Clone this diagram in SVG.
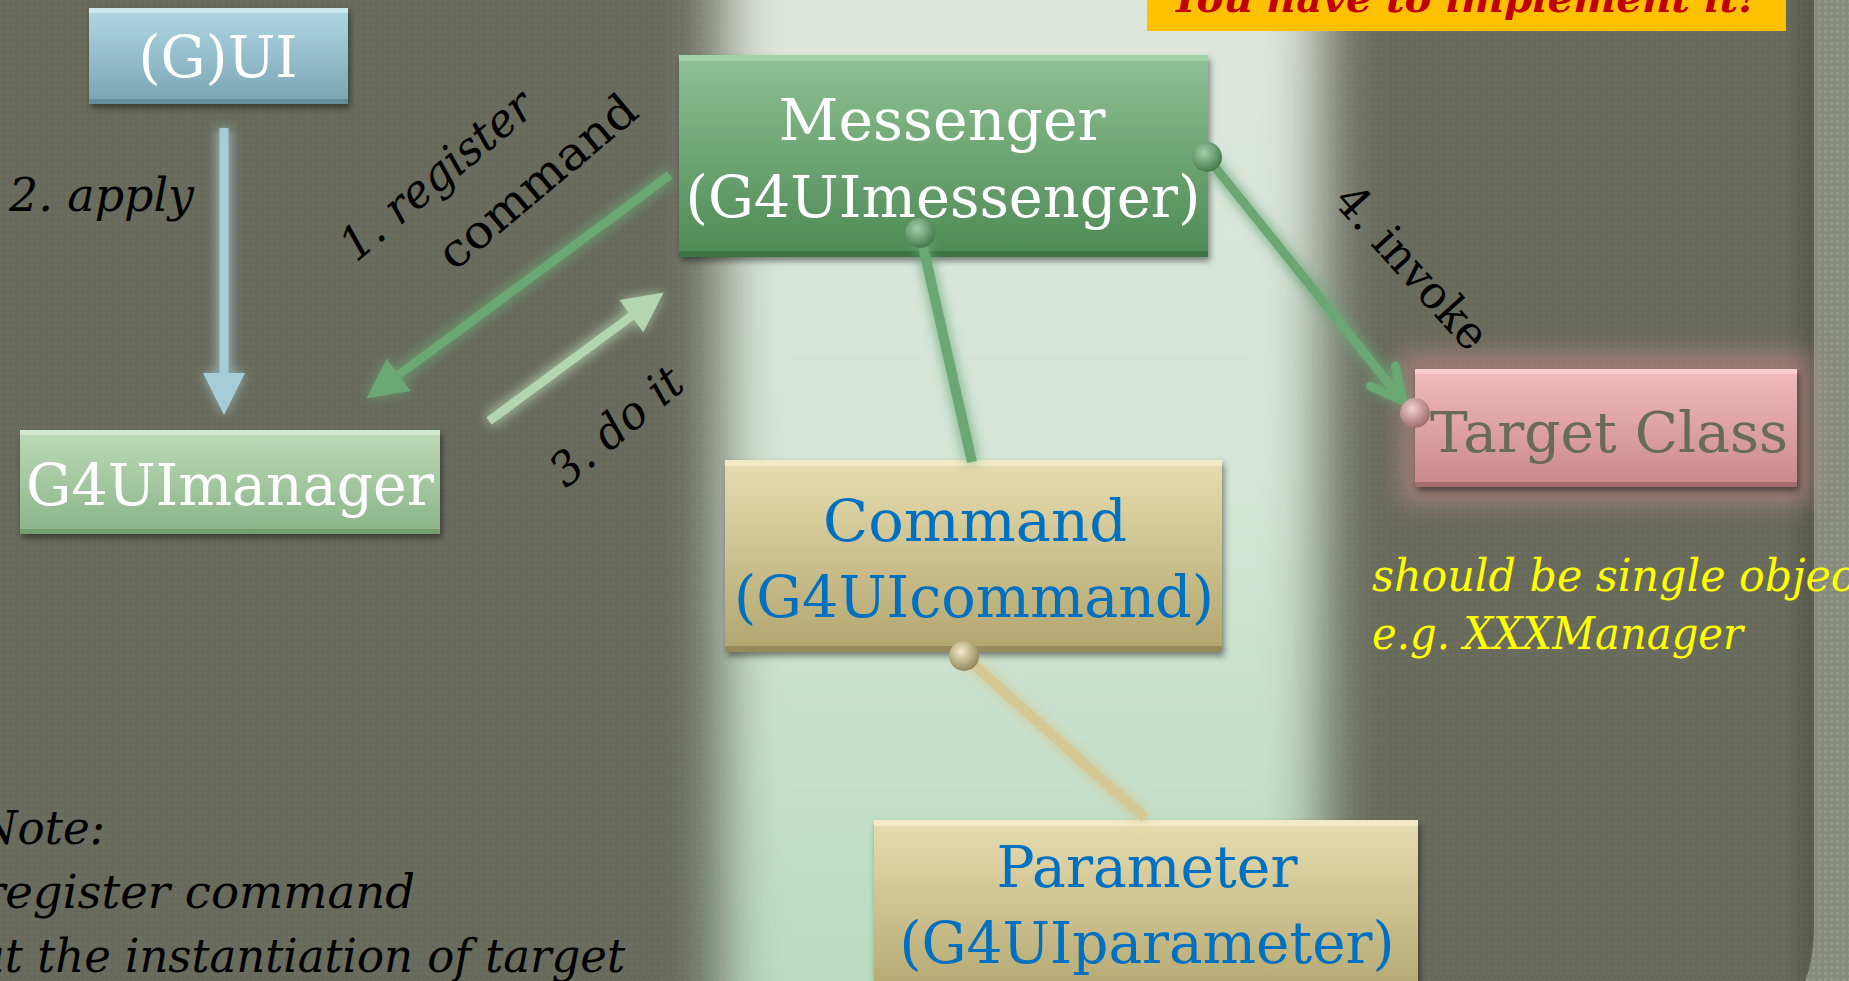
<svg xmlns="http://www.w3.org/2000/svg" width="1849" height="981" viewBox="0 0 1849 981">
<defs>
<style>
.f{font-family:"DejaVu Serif","Liberation Serif",serif}
.nt{fill:#ffffff;font-size:58px;text-anchor:middle}
.bt{fill:#0070c0;font-size:58px;text-anchor:middle}
.lab{fill:#000000;font-size:46px;font-style:italic}
.lab2{fill:#000000;font-size:46px}
.note{fill:#000000;font-size:46px;font-style:italic}
.yel{fill:#ffff00;font-size:44px;font-style:italic}
.glow{filter:url(#glow);opacity:0.75}
.box{filter:url(#shadow)}
</style>
<pattern id="tex" width="6" height="6" patternUnits="userSpaceOnUse">
<rect width="6" height="6" fill="#686a5b"/>
<rect x="0" y="0" width="3" height="3" fill="#6c6e5f"/>
</pattern>
<pattern id="tex2" width="6" height="6" patternUnits="userSpaceOnUse">
<rect width="6" height="6" fill="#878b7b"/>
<rect x="0" y="0" width="3" height="3" fill="#939786"/>
</pattern>
<linearGradient id="bandGrad" x1="0" y1="0" x2="0" y2="1">
<stop offset="0" stop-color="#cdd3ca"/>
<stop offset="0.15" stop-color="#dfe6dd"/>
<stop offset="0.5" stop-color="#d2e5d6"/>
<stop offset="1" stop-color="#afd6b8"/>
</linearGradient>
<linearGradient id="gBlue" x1="0" y1="0" x2="0" y2="1">
<stop offset="0" stop-color="#b0d8e4"/>
<stop offset="1" stop-color="#7aa3b3"/>
</linearGradient>
<linearGradient id="gLight" x1="0" y1="0" x2="0" y2="1">
<stop offset="0" stop-color="#bcdbb8"/>
<stop offset="1" stop-color="#8bb388"/>
</linearGradient>
<linearGradient id="gGreen" x1="0" y1="0" x2="0" y2="1">
<stop offset="0" stop-color="#8fc194"/>
<stop offset="1" stop-color="#4d8955"/>
</linearGradient>
<linearGradient id="gTan" x1="0" y1="0" x2="0" y2="1">
<stop offset="0" stop-color="#e6ddb0"/>
<stop offset="1" stop-color="#b2a56e"/>
</linearGradient>
<linearGradient id="gPink" x1="0" y1="0" x2="0" y2="1">
<stop offset="0" stop-color="#f2bbbb"/>
<stop offset="1" stop-color="#c98889"/>
</linearGradient>
<linearGradient id="edgeShade" x1="0" y1="0" x2="1" y2="0">
<stop offset="0" stop-color="#000" stop-opacity="0"/>
<stop offset="1" stop-color="#000" stop-opacity="0.18"/>
</linearGradient>
<radialGradient id="dGreen" cx="0.4" cy="0.35" r="0.7">
<stop offset="0" stop-color="#a3d0a8"/>
<stop offset="1" stop-color="#3f7448"/>
</radialGradient>
<radialGradient id="dTan" cx="0.4" cy="0.35" r="0.7">
<stop offset="0" stop-color="#f2ebc8"/>
<stop offset="1" stop-color="#8a7f52"/>
</radialGradient>
<radialGradient id="dPink" cx="0.4" cy="0.35" r="0.7">
<stop offset="0" stop-color="#f5d2d2"/>
<stop offset="1" stop-color="#9a6466"/>
</radialGradient>
<filter id="bandBlur" x="-20%" y="-20%" width="140%" height="140%">
<feGaussianBlur stdDeviation="28"/>
</filter>
<filter id="pinkBlur" x="-30%" y="-50%" width="160%" height="200%">
<feGaussianBlur stdDeviation="12"/>
</filter>
<filter id="glow" x="-30%" y="-30%" width="160%" height="160%">
<feGaussianBlur stdDeviation="6"/>
</filter>
<filter id="shadow" x="-10%" y="-20%" width="120%" height="150%">
<feDropShadow dx="2" dy="4" stdDeviation="3" flood-color="#000" flood-opacity="0.45"/>
</filter>
<marker id="triGreen" markerUnits="userSpaceOnUse" overflow="visible" orient="auto" refX="0" refY="0" markerWidth="40" markerHeight="40">
<path d="M-2,-20 L38,0 L-2,20 Z" fill="#6aa774"/>
</marker>
<marker id="triPale" markerUnits="userSpaceOnUse" overflow="visible" orient="auto" refX="0" refY="0" markerWidth="40" markerHeight="40">
<path d="M-2,-20 L38,0 L-2,20 Z" fill="#b3d6b1"/>
</marker>
<marker id="triBlue" markerUnits="userSpaceOnUse" overflow="visible" orient="auto" refX="0" refY="0" markerWidth="40" markerHeight="42">
<path d="M-2,-21 L40,0 L-2,21 Z" fill="#a6ccd7"/>
</marker>
<marker id="vGreen" markerUnits="userSpaceOnUse" overflow="visible" orient="auto" refX="0" refY="0" markerWidth="40" markerHeight="40">
<path d="M-32,-16 L0,0 L-32,16" fill="none" stroke="#6aa774" stroke-width="9" stroke-linecap="round" stroke-linejoin="round"/>
</marker>
</defs>

<!-- background -->
<rect x="0" y="0" width="1849" height="981" fill="url(#tex)"/>
<rect x="722" y="-200" width="600" height="1400" fill="url(#bandGrad)" filter="url(#bandBlur)"/>
<rect x="1785" y="0" width="28" height="981" fill="url(#edgeShade)"/>
<path d="M1813,0 L1849,0 L1849,981 L1804,981 Q1812,962 1813,930 Z" fill="url(#tex2)"/>
<path d="M1813,0 L1813,930 Q1812,962 1804,981" fill="none" stroke="#5d6052" stroke-width="2"/>
<rect x="1400" y="352" width="412" height="152" fill="#c98a8a" opacity="0.55" filter="url(#pinkBlur)"/>

<!-- banner -->
<g id="banner">
<rect x="1147" y="0" width="639" height="31" fill="#ffc000"/>
<text class="f" x="1171" y="12" font-size="40" font-weight="bold" font-style="italic" fill="#c00000" textLength="585" lengthAdjust="spacingAndGlyphs">You have to implement it!</text>
</g>

<!-- nodes -->
<g id="node-gui" class="box">
<rect x="89" y="8" width="259" height="96" fill="url(#gBlue)"/>
<rect x="89" y="8" width="259" height="5" fill="#d2ecf3" opacity="0.8"/>
<rect x="89" y="99" width="259" height="5" fill="#5f8896" opacity="0.8"/>
<text class="f nt" x="218" y="77" font-size="56" textLength="159" lengthAdjust="spacingAndGlyphs">(G)UI</text>
</g>

<g id="node-manager" class="box">
<rect x="20" y="430" width="420" height="104" fill="url(#gLight)"/>
<rect x="20" y="430" width="420" height="5" fill="#d6ecd3" opacity="0.8"/>
<rect x="20" y="529" width="420" height="5" fill="#6f9a6c" opacity="0.8"/>
<text class="f nt" x="230" y="505" font-size="56" textLength="408" lengthAdjust="spacingAndGlyphs">G4UImanager</text>
</g>

<g id="node-messenger" class="box">
<rect x="679" y="55" width="529" height="202" fill="url(#gGreen)"/>
<rect x="679" y="55" width="529" height="6" fill="#a6d6aa" opacity="0.8"/>
<rect x="679" y="251" width="529" height="6" fill="#3a6b41" opacity="0.8"/>
<text class="f nt" x="942" y="140" textLength="327" lengthAdjust="spacingAndGlyphs">Messenger</text>
<text class="f nt" x="943" y="217" textLength="515" lengthAdjust="spacingAndGlyphs">(G4UImessenger)</text>
</g>

<g id="node-command" class="box">
<rect x="725" y="460" width="497" height="192" fill="url(#gTan)"/>
<rect x="725" y="460" width="497" height="6" fill="#f5eecb" opacity="0.8"/>
<rect x="725" y="646" width="497" height="6" fill="#8e8355" opacity="0.8"/>
<text class="f bt" x="975" y="541" textLength="304" lengthAdjust="spacingAndGlyphs">Command</text>
<text class="f bt" x="974" y="617" textLength="480" lengthAdjust="spacingAndGlyphs">(G4UIcommand)</text>
</g>

<g id="node-parameter" class="box">
<rect x="874" y="820" width="544" height="180" fill="url(#gTan)"/>
<rect x="874" y="820" width="544" height="6" fill="#f5eecb" opacity="0.8"/>
<text class="f bt" x="1147" y="887" textLength="301" lengthAdjust="spacingAndGlyphs">Parameter</text>
<text class="f bt" x="1147" y="963" textLength="495" lengthAdjust="spacingAndGlyphs">(G4UIparameter)</text>
</g>

<g id="node-target" class="box">
<rect x="1415" y="369" width="382" height="118" fill="url(#gPink)"/>
<rect x="1415" y="369" width="382" height="5" fill="#fbd3d3" opacity="0.8"/>
<rect x="1415" y="482" width="382" height="5" fill="#9b6667" opacity="0.8"/>
<text class="f" x="1609" y="452" font-size="56" fill="#676a5a" text-anchor="middle" textLength="358" lengthAdjust="spacingAndGlyphs">Target Class</text>
</g>

<!-- connectors -->
<g id="connectors">
<g class="glow">
<line x1="224" y1="128" x2="224" y2="375" stroke="#a6ccd7" stroke-width="14" marker-end="url(#triBlue)"/>
<line x1="670" y1="175" x2="397" y2="376" stroke="#6aa774" stroke-width="14" marker-end="url(#triGreen)"/>
<line x1="489" y1="421" x2="633" y2="315" stroke="#b3d6b1" stroke-width="14" marker-end="url(#triPale)"/>
<line x1="920" y1="233" x2="972" y2="462" stroke="#6aa774" stroke-width="14"/>
<line x1="1207" y1="157" x2="1403" y2="401" stroke="#6aa774" stroke-width="14" marker-end="url(#vGreen)"/>
<line x1="964" y1="656" x2="1145" y2="818" stroke="#d5c894" stroke-width="14"/>
</g>
<line x1="224" y1="128" x2="224" y2="375" stroke="#a6ccd7" stroke-width="9" marker-end="url(#triBlue)"/>
<line x1="670" y1="175" x2="397" y2="376" stroke="#6aa774" stroke-width="9" marker-end="url(#triGreen)"/>
<line x1="489" y1="421" x2="633" y2="315" stroke="#b3d6b1" stroke-width="9" marker-end="url(#triPale)"/>
<line x1="920" y1="233" x2="972" y2="462" stroke="#6aa774" stroke-width="10"/>
<line x1="1207" y1="157" x2="1403" y2="401" stroke="#6aa774" stroke-width="9" marker-end="url(#vGreen)"/>
<line x1="964" y1="656" x2="1145" y2="818" stroke="#d5c894" stroke-width="10"/>
<circle cx="920" cy="233" r="15" fill="url(#dGreen)"/>
<circle cx="1207" cy="157" r="15" fill="url(#dGreen)"/>
<circle cx="964" cy="656" r="15" fill="url(#dTan)"/>
<circle cx="1415" cy="413" r="15" fill="url(#dPink)"/>
</g>

<!-- labels -->
<g id="labels">
<text class="f lab" x="9" y="211" textLength="185" lengthAdjust="spacingAndGlyphs">2. apply</text>
<text class="f lab" transform="translate(356,263) rotate(-40)" textLength="236" lengthAdjust="spacingAndGlyphs">1. register</text>
<text class="f lab2" transform="translate(454,272) rotate(-40)" textLength="244" lengthAdjust="spacingAndGlyphs">command</text>
<text class="f lab" transform="translate(566,489) rotate(-40)" textLength="158" lengthAdjust="spacingAndGlyphs">3. do it</text>
<text class="f lab2" transform="translate(1332,202) rotate(48)" textLength="204" lengthAdjust="spacingAndGlyphs">4. invoke</text>
<text class="f note" x="-22" y="844" textLength="127" lengthAdjust="spacingAndGlyphs">Note:</text>
<text class="f note" x="-17" y="908" textLength="432" lengthAdjust="spacingAndGlyphs">register command</text>
<text class="f note" x="-22" y="972" textLength="647" lengthAdjust="spacingAndGlyphs">at the instantiation of target</text>
<text class="f yel" x="1372" y="591" textLength="500" lengthAdjust="spacingAndGlyphs">should be single object</text>
<text class="f yel" x="1372" y="649" textLength="371" lengthAdjust="spacingAndGlyphs">e.g. XXXManager</text>
</g>
</svg>
